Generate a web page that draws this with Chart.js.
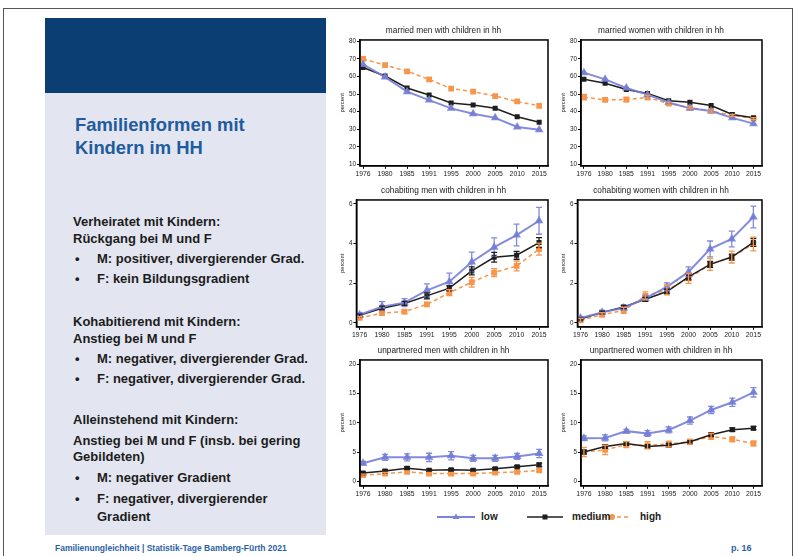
<!DOCTYPE html>
<html>
<head>
<meta charset="utf-8">
<script src="https://cdn.jsdelivr.net/npm/chart.js@4"></script>
<style>
  body { margin:0; width:795px; height:556px; background:#fff; position:relative; overflow:hidden;
         font-family:"Liberation Sans", Arial, sans-serif; }
  .frame { position:absolute; left:3px; top:8px; width:788px; height:560px; border:1px solid #555; }
  .head { position:absolute; left:45px; top:18px; width:281px; height:75px; background:#0b3f74; }
  .panel { position:absolute; left:45px; top:93px; width:281px; height:442px; background:#e3e6f0; }
  .ttl { position:absolute; left:75px; font-size:18.4px; font-weight:bold; color:#1f5c9e; line-height:22px; }
  .ln { position:absolute; left:73px; font-size:13px; font-weight:bold; color:#1c1c1c; line-height:14px; white-space:nowrap; }
  .bl { position:absolute; left:75px; font-size:13px; font-weight:bold; color:#1c1c1c; line-height:14px; }
  .ind { left:97px; }
  canvas { position:absolute; }
  .foot { position:absolute; top:543px; font-size:8.5px; font-weight:bold; color:#2b5fa8; }
  .leg { position:absolute; top:511px; font-size:10px; font-weight:bold; color:#222; }
</style>
</head>
<body>
<div class="frame"></div>
<div class="head"></div>
<div class="panel"></div>
<div class="ttl" style="top:114px">Familienformen mit</div>
<div class="ttl" style="top:137px">Kindern im HH</div>

<div class="ln" style="top:215px">Verheiratet mit Kindern:</div>
<div class="ln" style="top:232px">Rückgang bei M und F</div>
<div class="bl" style="top:252px">•</div><div class="ln ind" style="top:252px">M: positiver, divergierender Grad.</div>
<div class="bl" style="top:272px">•</div><div class="ln ind" style="top:272px">F: kein Bildungsgradient</div>

<div class="ln" style="top:315px">Kohabitierend mit Kindern:</div>
<div class="ln" style="top:332px">Anstieg bei M und F</div>
<div class="bl" style="top:352px">•</div><div class="ln ind" style="top:352px">M: negativer, divergierender Grad.</div>
<div class="bl" style="top:372px">•</div><div class="ln ind" style="top:372px">F: negativer, divergierender Grad.</div>

<div class="ln" style="top:413px">Alleinstehend mit Kindern:</div>
<div class="ln" style="top:434px">Anstieg bei M und F (insb. bei gering</div>
<div class="ln" style="top:450px">Gebildeten)</div>
<div class="bl" style="top:471px">•</div><div class="ln ind" style="top:471px">M: negativer Gradient</div>
<div class="bl" style="top:492px">•</div><div class="ln ind" style="top:492px">F: negativer, divergierender</div>
<div class="ln ind" style="top:510px">Gradient</div>

<canvas id="c1" style="left:335px;top:24px" width="219" height="155"></canvas>
<canvas id="c2" style="left:556px;top:24px" width="212" height="155"></canvas>
<canvas id="c3" style="left:335px;top:184px" width="219" height="156"></canvas>
<canvas id="c4" style="left:556px;top:184px" width="212" height="156"></canvas>
<canvas id="c5" style="left:335px;top:344px" width="219" height="155"></canvas>
<canvas id="c6" style="left:556px;top:344px" width="212" height="155"></canvas>

<svg style="position:absolute;left:430px;top:508px" width="230" height="18">
  <line x1="7" y1="9" x2="45" y2="9" stroke="#7d84d8" stroke-width="2"/>
  <polygon points="26,5.5 29.5,11 22.5,11" fill="#7d84d8"/>
  <line x1="97" y1="9" x2="133" y2="9" stroke="#1e1e1e" stroke-width="1.5"/>
  <rect x="112.5" y="6.5" width="5" height="5" fill="#1e1e1e"/>
  <line x1="166" y1="9" x2="198" y2="9" stroke="#f7954a" stroke-width="1.5" stroke-dasharray="4,3"/>
  <circle cx="182" cy="9" r="3" fill="#f7954a"/>
</svg>
<div class="leg" style="left:481px">low</div>
<div class="leg" style="left:572px">medium</div>
<div class="leg" style="left:640px">high</div>

<div class="foot" style="left:55px">Familienungleichheit | Statistik-Tage Bamberg-Fürth 2021</div>
<div class="foot" style="left:731px;font-size:9px">p. 16</div>

<script>
const years = ['1976', '1980', '1985', '1991', '1995', '2000', '2005', '2010', '2015'];

const ticksMarried = [10, 20, 30, 40, 50, 60, 70, 80];
const ticksCohab = [0, 2, 4, 6];
const ticksUnpart = [0, 5, 10, 15, 20];

// married men
const mmLow  = [66.9, 59.7, 51.4, 46.6, 41.9, 38.8, 36.5, 31.3, 29.7];
const mmMed  = [65.1, 60.3, 53.5, 49.5, 45.0, 43.8, 41.9, 37.1, 34.0];
const mmHigh = [70.0, 66.5, 63.0, 58.4, 53.1, 51.4, 48.9, 45.8, 43.3];

// married women
const mwLow  = [62.2, 58.4, 53.5, 49.7, 45.2, 41.9, 40.4, 36.5, 33.2];
const mwMed  = [58.4, 56.2, 52.6, 50.4, 46.2, 45.4, 43.5, 38.4, 36.5];
const mwHigh = [48.3, 46.7, 46.9, 48.1, 44.6, 42.3, 40.4, 37.9, 36.1];
const mwHighErr = [1.5, 0.8, 1.2, 1.2, 0.8, 0.6, 0.6, 0.6, 0.5];

// cohabiting men
const cmLow  = [0.41, 0.82, 1.02, 1.64, 2.08, 3.07, 3.82, 4.43, 5.15];
const cmMed  = [0.38, 0.74, 0.98, 1.36, 1.75, 2.62, 3.31, 3.41, 4.05];
const cmHigh = [0.25, 0.49, 0.57, 0.93, 1.52, 2.05, 2.54, 2.87, 3.72];
const cmLowErr  = [0.1, 0.25, 0.2, 0.33, 0.43, 0.5, 0.47, 0.55, 0.68];
const cmMedErr  = [0.06, 0.1, 0.1, 0.15, 0.13, 0.2, 0.25, 0.2, 0.25];
const cmHighErr = [0.06, 0.1, 0.1, 0.1, 0.15, 0.25, 0.2, 0.25, 0.3];

// cohabiting women
const cwLow  = [0.25, 0.53, 0.75, 1.24, 1.82, 2.57, 3.73, 4.23, 5.34];
const cwMed  = [0.20, 0.53, 0.80, 1.19, 1.58, 2.32, 2.95, 3.32, 4.06];
const cwHigh = [0.13, 0.41, 0.63, 1.36, 1.66, 2.24, 2.95, 3.32, 3.98];
const cwLowErr  = [0.08, 0.08, 0.1, 0.15, 0.2, 0.25, 0.4, 0.4, 0.55];
const cwMedErr  = [0.05, 0.06, 0.08, 0.1, 0.12, 0.15, 0.15, 0.15, 0.2];
const cwHighErr = [0.1, 0.1, 0.15, 0.2, 0.25, 0.25, 0.3, 0.3, 0.35];

// unpartnered men
const umLow  = [3.15, 4.14, 4.14, 4.14, 4.40, 3.98, 3.98, 4.30, 4.80];
const umMed  = [1.49, 1.82, 2.30, 1.93, 2.04, 1.93, 2.20, 2.54, 2.87];
const umHigh = [1.10, 1.38, 1.66, 1.38, 1.38, 1.38, 1.55, 1.66, 1.93];
const umLowErr  = [0.3, 0.5, 0.6, 0.7, 0.7, 0.5, 0.5, 0.5, 0.7];
const umMedErr  = [0.2, 0.2, 0.2, 0.2, 0.2, 0.2, 0.2, 0.2, 0.3];
const umHighErr = [0.2, 0.2, 0.2, 0.2, 0.2, 0.2, 0.2, 0.2, 0.2];

// unpartnered women
const uwLow  = [7.4, 7.45, 8.6, 8.2, 8.8, 10.4, 12.2, 13.5, 15.2];
const uwMed  = [5.05, 6.0, 6.5, 6.0, 6.2, 6.8, 8.0, 8.85, 9.1];
const uwHigh = [5.05, 5.4, 6.3, 6.2, 6.4, 6.8, 7.7, 7.2, 6.5];
const uwLowErr  = [0.4, 0.5, 0.3, 0.5, 0.5, 0.6, 0.6, 0.7, 0.8];
const uwMedErr  = [0.3, 0.3, 0.3, 0.3, 0.3, 0.3, 0.3, 0.3, 0.3];
const uwHighErr = [0.8, 0.8, 0.5, 0.6, 0.5, 0.4, 0.5, 0.4, 0.4];

const blue = 'rgba(118,126,214,0.9)';
const black = '#1e1e1e';
const orange = '#f7954a';

// error bars + box around plot
const extras = {
    id: 'extras',
    afterDatasetsDraw(chart) {
        const ctx = chart.ctx;
        const xs = chart.scales.x, ys = chart.scales.y;
        chart.data.datasets.forEach((ds, d) => {
            if (!ds.errs) return;
            ctx.save();
            ctx.strokeStyle = ds.borderColor;
            ctx.lineWidth = 1.3;
            ds.data.forEach((p, i) => {
                const e = ds.errs[i];
                const x = xs.getPixelForValue(p.x);
                const y1 = ys.getPixelForValue(p.y - e);
                const y2 = ys.getPixelForValue(p.y + e);
                ctx.beginPath();
                ctx.moveTo(x, y1); ctx.lineTo(x, y2);
                ctx.moveTo(x - 3, y1); ctx.lineTo(x + 3, y1);
                ctx.moveTo(x - 3, y2); ctx.lineTo(x + 3, y2);
                ctx.stroke();
            });
            ctx.restore();
        });
        const a = chart.chartArea;
        ctx.save();
        ctx.strokeStyle = '#000';
        ctx.lineWidth = 1.5;
        ctx.strokeRect(a.left, a.top, a.right - a.left, a.bottom - a.top);
        ctx.restore();
    }
};

function pts(arr) {
    return arr.map((v, i) => ({ x: i, y: v }));
}

function makeChart(id, title, low, med, high, errs, ticks, yMin, yMax) {
    errs = errs || [];
    new Chart(document.getElementById(id), {
        type: 'line',
        data: {
            datasets: [
                { label: 'low', data: pts(low), errs: errs[0], borderColor: blue, backgroundColor: blue,
                  borderWidth: 2, pointStyle: 'triangle', pointRadius: 3 },
                { label: 'medium', data: pts(med), errs: errs[1], borderColor: black, backgroundColor: black,
                  borderWidth: 1.5, pointStyle: 'rect', pointRadius: 2.5 },
                { label: 'high', data: pts(high), errs: errs[2], borderColor: orange, backgroundColor: orange,
                  borderWidth: 1.5, borderDash: [4, 3], pointStyle: 'rect', pointRadius: 3 }
            ]
        },
        options: {
            responsive: false,
            animation: false,
            layout: { padding: { left: 2, right: 4, top: 1, bottom: 0 } },
            plugins: {
                legend: { display: false },
                tooltip: { enabled: false },
                title: { display: true, text: title, color: '#222',
                         font: { size: 8.3, weight: 'normal', family: 'Liberation Sans' }, padding: { top: 1, bottom: 4 } }
            },
            scales: {
                x: {
                    type: 'linear', min: -0.14, max: 8.4,
                    afterBuildTicks: axis => { axis.ticks = years.map((y, i) => ({ value: i })); },
                    ticks: { callback: v => years[v], color: '#222', font: { size: 6.8, family: 'Liberation Sans' },
                             padding: 1, maxRotation: 0, autoSkip: false },
                    grid: { drawOnChartArea: false, tickLength: 3, color: '#000', lineWidth: 1 },
                    border: { color: '#000', width: 1.5 }
                },
                y: {
                    min: yMin, max: yMax,
                    afterBuildTicks: axis => { axis.ticks = ticks.map(v => ({ value: v })); },
                    ticks: { color: '#222', font: { size: 6.3, family: 'Liberation Sans' }, padding: 1 },
                    grid: { drawOnChartArea: false, tickLength: 3, color: '#000', lineWidth: 1 },
                    border: { color: '#000', width: 1.5 },
                    title: { display: true, text: 'percent', color: '#222',
                             font: { size: 5.8, family: 'Liberation Sans' }, padding: 2 }
                }
            }
        },
        plugins: [extras]
    });
}

makeChart('c1', 'married men with children in hh', mmLow, mmMed, mmHigh, null, ticksMarried, 9.2, 80.8);
makeChart('c2', 'married women with children in hh', mwLow, mwMed, mwHigh, [null, null, mwHighErr], ticksMarried, 9.2, 80.8);
makeChart('c3', 'cohabiting men with children in hh', cmLow, cmMed, cmHigh, [cmLowErr, cmMedErr, cmHighErr], ticksCohab, -0.2, 6.2);
makeChart('c4', 'cohabiting women with children in hh', cwLow, cwMed, cwHigh, [cwLowErr, cwMedErr, cwHighErr], ticksCohab, -0.2, 6.2);
makeChart('c5', 'unpartnered men with children in hh', umLow, umMed, umHigh, [umLowErr, umMedErr, umHighErr], ticksUnpart, -0.7, 20.7);
makeChart('c6', 'unpartnered women with children in hh', uwLow, uwMed, uwHigh, [uwLowErr, uwMedErr, uwHighErr], ticksUnpart, -0.7, 20.7);
</script>
</body>
</html>
